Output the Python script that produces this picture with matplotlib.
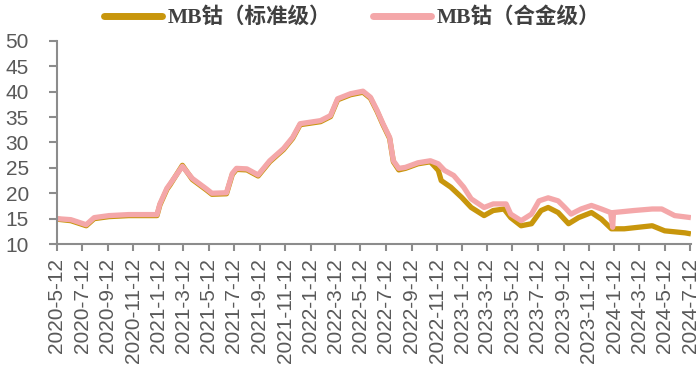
import matplotlib
matplotlib.use("Agg")
import matplotlib.pyplot as plt
import matplotlib.dates as mdates
import pandas as pd

# ---------------------------------------------------------
# data
# ---------------------------------------------------------

alloy_dates = [
    "2020-05-12", "2020-06-15", "2020-07-22", "2020-08-10", "2020-09-15",
    "2020-11-01", "2021-01-08", "2021-01-15", "2021-02-01", "2021-02-08",
    "2021-03-10", "2021-04-03", "2021-05-06", "2021-05-20", "2021-06-24",
    "2021-07-08", "2021-07-18", "2021-08-12", "2021-09-08", "2021-10-06",
    "2021-11-08", "2021-11-30", "2021-12-18", "2022-02-05", "2022-03-01",
    "2022-03-18", "2022-04-18", "2022-05-18", "2022-06-05", "2022-06-21",
    "2022-07-05", "2022-07-21", "2022-07-30", "2022-08-12", "2022-08-28",
    "2022-09-27", "2022-10-27", "2022-11-15", "2022-11-30", "2022-12-22",
    "2023-01-15", "2023-02-02", "2023-03-05", "2023-03-27", "2023-04-27",
    "2023-05-08", "2023-06-02", "2023-06-27", "2023-07-15", "2023-08-06",
    "2023-08-30", "2023-09-15", "2023-09-30", "2023-10-24", "2023-11-18",
    "2023-12-12", "2024-01-03", "2024-01-08", "2024-01-10", "2024-02-28",
    "2024-04-12", "2024-05-05", "2024-06-05", "2024-07-14",
]
alloy_values = [
    15.0, 14.8, 13.8, 15.2, 15.6,
    15.8, 15.8, 17.9, 21.0, 21.8,
    25.3, 22.9, 20.9, 20.0, 20.1,
    23.9, 24.9, 24.8, 23.6, 26.4,
    28.8, 31.0, 33.7, 34.3, 35.3,
    38.6, 39.6, 40.1, 38.9, 36.3,
    33.7, 31.0, 26.4, 24.9, 25.1,
    26.0, 26.4, 25.8, 24.5, 23.5,
    21.2, 18.9, 17.2, 17.9, 17.9,
    15.9, 14.6, 15.9, 18.5, 19.1,
    18.5, 17.2, 15.9, 16.9, 17.6,
    16.9, 16.2, 13.3, 16.2, 16.6,
    16.9, 16.9, 15.6, 15.2,
]

standard_dates = [
    "2020-05-12", "2020-06-15", "2020-07-22", "2020-08-10", "2020-09-15",
    "2020-11-01", "2021-01-08", "2021-01-15", "2021-02-01", "2021-02-08",
    "2021-03-10", "2021-04-03", "2021-05-06", "2021-05-20", "2021-06-24",
    "2021-07-08", "2021-07-18", "2021-08-12", "2021-09-08", "2021-10-06",
    "2021-11-08", "2021-11-30", "2021-12-18", "2022-02-05", "2022-03-01",
    "2022-03-18", "2022-04-18", "2022-05-18", "2022-06-05", "2022-06-21",
    "2022-07-05", "2022-07-21", "2022-07-30", "2022-08-12", "2022-08-28",
    "2022-09-27", "2022-10-27", "2022-11-15", "2022-11-22", "2022-12-15",
    "2023-01-10", "2023-02-02", "2023-03-05", "2023-03-27", "2023-04-22",
    "2023-05-08", "2023-06-02", "2023-06-27", "2023-07-20", "2023-08-06",
    "2023-08-30", "2023-09-24", "2023-10-18", "2023-11-18", "2023-12-12",
    "2024-01-05", "2024-02-05", "2024-04-12", "2024-05-12", "2024-06-30",
    "2024-07-14",
]
standard_values = [
    14.9, 14.6, 13.6, 15.0, 15.4,
    15.6, 15.6, 17.7, 20.8, 21.6,
    25.5, 22.7, 20.7, 19.8, 19.9,
    23.7, 24.7, 24.6, 23.4, 26.2,
    28.6, 30.8, 33.5, 34.1, 35.1,
    38.4, 39.4, 39.9, 38.7, 36.1,
    33.5, 30.8, 26.2, 24.6, 24.9,
    25.8, 26.2, 24.5, 22.5, 21.2,
    19.2, 17.2, 15.6, 16.6, 16.9,
    15.2, 13.6, 14.0, 16.6, 17.2,
    16.2, 14.0, 15.2, 16.2, 14.9,
    13.0, 13.0, 13.6, 12.6, 12.2,
    12.0,
]

tick_dates = [
    "2020-05-12", "2020-07-12", "2020-09-12", "2020-11-12",
    "2021-01-12", "2021-03-12", "2021-05-12", "2021-07-12", "2021-09-12", "2021-11-12",
    "2022-01-12", "2022-03-12", "2022-05-12", "2022-07-12", "2022-09-12", "2022-11-12",
    "2023-01-12", "2023-03-12", "2023-05-12", "2023-07-12", "2023-09-12", "2023-11-12",
    "2024-01-12", "2024-03-12", "2024-05-12", "2024-07-12",
]
tick_labels = [
    "2020-5-12", "2020-7-12", "2020-9-12", "2020-11-12",
    "2021-1-12", "2021-3-12", "2021-5-12", "2021-7-12", "2021-9-12", "2021-11-12",
    "2022-1-12", "2022-3-12", "2022-5-12", "2022-7-12", "2022-9-12", "2022-11-12",
    "2023-1-12", "2023-3-12", "2023-5-12", "2023-7-12", "2023-9-12", "2023-11-12",
    "2024-1-12", "2024-3-12", "2024-5-12", "2024-7-12",
]

# ---------------------------------------------------------
# plot
# ---------------------------------------------------------

plt.rcParams["font.family"] = ["Liberation Sans", "Noto Sans CJK SC", "DejaVu Sans"]

grey = "#8c8c8c"

fig = plt.figure(figsize=(7.0, 3.72), dpi=100)
ax = fig.add_axes([0.081, 0.344, 0.906, 0.546])

ax.plot(pd.to_datetime(standard_dates), standard_values,
        color="#c8960c", linewidth=3.8, label="MB钴（标准级）",
        solid_capstyle="butt")
ax.plot(pd.to_datetime(alloy_dates), alloy_values,
        color="#f4a7a9", linewidth=3.8, label="MB钴（合金级）",
        solid_capstyle="butt")

ax.set_ylim(10, 50)
ax.set_yticks(range(10, 51, 5))
ax.set_xlim(pd.Timestamp("2020-05-12"), pd.Timestamp("2024-07-14"))
ax.set_xticks(mdates.date2num(pd.to_datetime(tick_dates)))
ax.set_xticklabels(tick_labels, rotation=90)

for side in ["top", "right"]:
    ax.spines[side].set_visible(False)
for side in ["left", "bottom"]:
    ax.spines[side].set_color(grey)
    ax.spines[side].set_linewidth(1.5)

ax.tick_params(axis="y", colors=grey, labelsize=15, length=6, width=1.5,
               direction="out", pad=14)
ax.tick_params(axis="x", colors=grey, labelsize=15, length=5, width=1.5,
               direction="out", pad=5)
for lab in ax.get_yticklabels() + ax.get_xticklabels():
    lab.set_color("#595959")

leg = fig.legend(loc="center", bbox_to_anchor=(0.503, 0.952), ncol=2,
                 frameon=False, handlelength=2.7,
                 handletextpad=0.25, columnspacing=1.95,
                 prop={"family": ["Liberation Serif", "Noto Sans CJK SC"],
                       "weight": "bold", "size": 15.5})
for line in leg.get_lines():
    line.set_linewidth(5)
    line.set_solid_capstyle("round")
for txt in leg.get_texts():
    txt.set_color("#404040")

fig.savefig("out.png", dpi=100)
